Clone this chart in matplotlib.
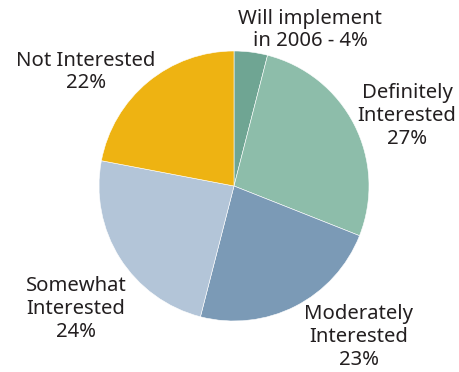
import matplotlib.pyplot as plt

labels = ["Will implement\nin 2006 - 4%", "Definitely\nInterested\n27%", "Moderately\nInterested\n23%",
          "Somewhat\nInterested\n24%", "Not Interested\n22%"]
values = [4, 27, 23, 24, 22]
colors = ["#6fa593", "#8dbdaa", "#7b9ab6", "#b3c5d8", "#eeb312"]

# label centres in pixel coords (x from left, y from top)
label_pos = [(310, 30), (407, 116), (359, 337), (76, 309), (86, 72)]

plt.rcParams['font.family'] = ['Noto Sans', 'DejaVu Sans']

fig = plt.figure(figsize=(4.6, 3.72), dpi=100)
ax = fig.add_axes([0, 0, 1, 1])

ax.pie(values, colors=colors, startangle=90, counterclock=False,
       center=(234, 186), radius=135, frame=True,
       wedgeprops=dict(edgecolor='white', linewidth=0.4))
ax.set_xlim(0, 460)
ax.set_ylim(0, 372)
ax.set_aspect('equal')
ax.axis('off')

for lab, (x, y) in zip(labels, label_pos):
    ax.text(x, 372 - y, lab, ha='center', va='center', fontsize=14.6,
            color='#231f20', linespacing=1.18)

fig.savefig("out.png", dpi=100)
